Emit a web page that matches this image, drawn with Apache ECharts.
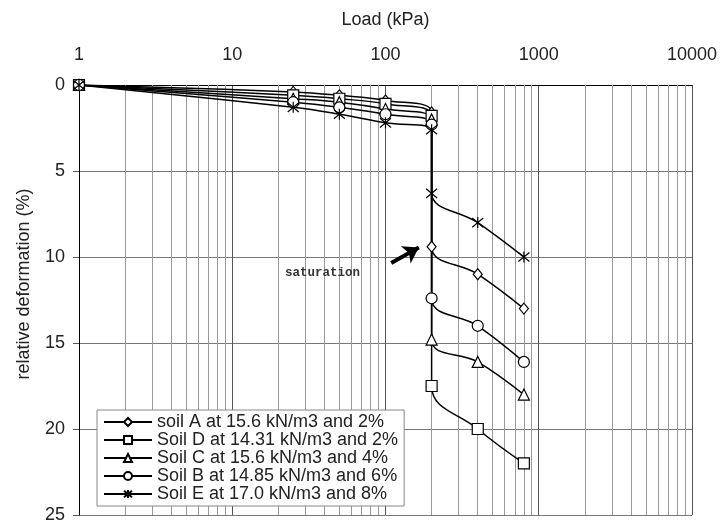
<!DOCTYPE html>
<html><head><meta charset="utf-8">
<script src="https://cdn.jsdelivr.net/npm/echarts@6/dist/echarts.min.js"></script>
<style>html,body{margin:0;padding:0;background:#fff}#c{width:720px;height:524px}</style>
</head><body><div id="c"></div>
<script>
const loads = [1, 25, 50, 100, 200, 200, 400, 800];
const soilA = [0, 0.4, 0.6, 0.9, 1.6, 9.4, 11.0, 13.0];
const soilD = [0, 0.6, 0.8, 1.1, 1.8, 17.5, 20.0, 22.0];
const soilC = [0, 0.8, 1.0, 1.4, 2.0, 14.8, 16.1, 18.0];
const soilB = [0, 1.0, 1.3, 1.7, 2.3, 12.4, 14.0, 16.1];
const soilE = [0, 1.3, 1.7, 2.2, 2.6, 6.3, 8.0, 10.0];
const names = ['soil A at 15.6 kN/m3 and 2%', 'Soil D at 14.31 kN/m3 and 2%', 'Soil C at 15.6 kN/m3 and 4%', 'Soil B at 14.85 kN/m3 and 6%', 'Soil E at 17.0 kN/m3 and 8%'];
const xTickLabels = ['1', '10', '100', '1000', '10000'];
const yTicks = [0, 5, 10, 15, 20, 25];
const minorLines = [2,3,4,5,6,7,8,9,20,30,40,50,60,70,80,90,200,300,400,500,600,700,800,900,2000,3000,4000,5000,6000,7000,8000,9000];
const arrowFrom = [109, 10.35];
const arrowTo = [165, 9.45];

const FONT = "'Liberation Sans', Arial, sans-serif";
const star = 'path://M0,0L10,10M10,0L0,10M5,-1L5,11';
const symbols = ['diamond', 'rect', 'triangle', 'circle', star];
const sizes = [[9, 11], 11, 11, 11, 11];
const allData = [soilA, soilD, soilC, soilB, soilE];

const series = allData.map((vals, i) => ({
  name: names[i],
  type: 'line',
  smooth: 0.4,
  data: loads.map((x, j) => [x, vals[j]]),
  symbol: symbols[i],
  symbolSize: sizes[i],
  showAllSymbol: true,
  lineStyle: { color: '#000', width: 1.5 },
  itemStyle: { color: '#fff', borderColor: '#000', borderWidth: 1.2 },
  z: 5
}));

series.push({
  type: 'line',
  data: [],
  silent: true,
  markLine: {
    silent: true,
    symbol: 'none',
    label: { show: false },
    lineStyle: { color: '#999', width: 1, type: 'solid' },
    data: minorLines.map(v => ({ xAxis: v }))
  },
  z: 1
});
series.push({
  type: 'line',
  data: [],
  silent: true,
  markLine: {
    silent: true,
    symbol: ['none', 'arrow'],
    symbolSize: 15,
    label: { show: false },
    lineStyle: { color: '#000', width: 4, type: 'solid' },
    data: [[{ coord: arrowFrom }, { coord: arrowTo }]]
  },
  z: 6
});

const chart = echarts.init(document.getElementById('c'));
chart.setOption({
  animation: false,
  backgroundColor: '#fff',
  grid: { left: 79, right: 27, top: 85, bottom: 6 },
  xAxis: {
    type: 'log', logBase: 10, min: 1, max: 10000, position: 'top',
    name: 'Load (kPa)', nameLocation: 'middle', nameGap: 56,
    nameTextStyle: { fontFamily: FONT, fontSize: 18, color: '#222' },
    axisLine: { show: true, lineStyle: { color: '#000', width: 1 } },
    axisTick: { show: false },
    axisLabel: { fontFamily: FONT, fontSize: 18, color: '#222', margin: 21,
      formatter: v => xTickLabels[Math.round(Math.log10(v))] },
    splitLine: { show: true, lineStyle: { color: '#555', width: 1 } },
    minorSplitLine: { show: false }
  },
  yAxis: {
    type: 'value', inverse: true, min: 0, max: 25, interval: 5,
    axisLine: { show: true, lineStyle: { color: '#000', width: 1 } },
    axisTick: { show: true, inside: false, length: 6, lineStyle: { color: '#555' } },
    axisLabel: { fontFamily: FONT, fontSize: 18, color: '#222', margin: 14,
      formatter: v => yTicks.includes(v) ? String(v) : '' },
    splitLine: { show: true, lineStyle: { color: '#777', width: 1 } }
  },
  legend: {
    data: names,
    orient: 'vertical',
    left: 97, top: 410,
    z: 20,
    itemWidth: 48, itemHeight: 10, itemGap: 0,
    padding: [3, 6, 3, 6],
    backgroundColor: '#fff',
    borderColor: '#888', borderWidth: 1,
    textStyle: { fontFamily: FONT, fontSize: 18, lineHeight: 18, color: '#222' }
  },
  graphic: [{
    type: 'text', left: 285, top: 266, z: 10,
    style: { text: 'saturation', font: "bold 12.5px 'Liberation Mono', monospace", fill: '#333' }
  }, {
    type: 'text', x: 24, y: 284, rotation: Math.PI / 2, z: 10,
    style: { text: 'relative deformation (%)', font: "18px 'Liberation Sans', Arial, sans-serif", fill: '#222', align: 'center', verticalAlign: 'middle' }
  }],
  series: series
});
</script></body></html>
